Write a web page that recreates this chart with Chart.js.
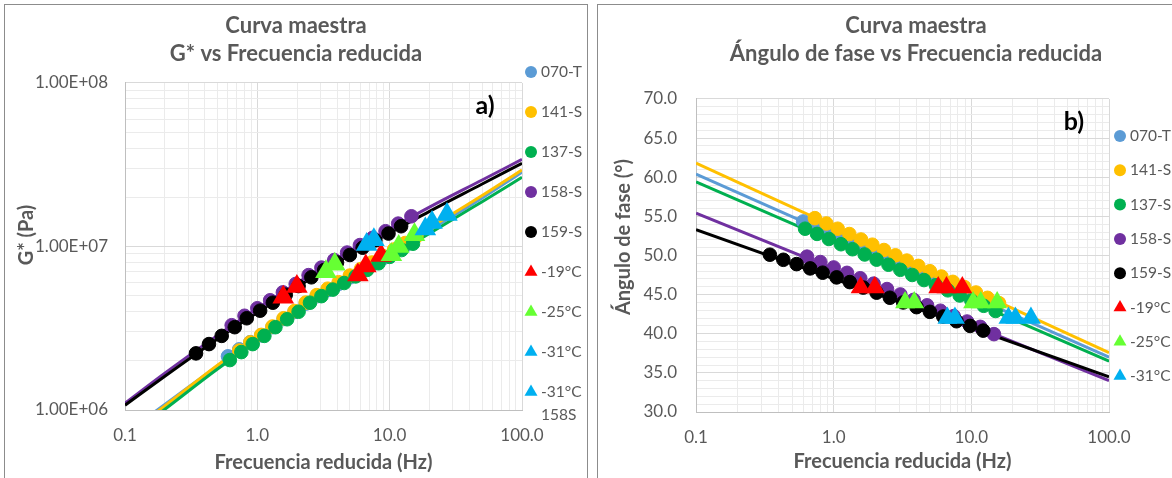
<!DOCTYPE html>
<html>
<head>
<meta charset="utf-8">
<script src="https://cdn.jsdelivr.net/npm/chart.js@4.4.1/dist/chart.umd.min.js"></script>
<style>
  html, body { margin: 0; padding: 0; background: #fff; overflow: hidden; width: 1172px; height: 478px; }
  .panel { position: absolute; top: 4px; border: 1px solid #8c8c8c; background: #fff; }
  #panelA { left: 4px; width: 582px; height: 480px; }
  #panelB { left: 597px; width: 636px; height: 480px; }
  canvas { display: block; }
</style>
</head>
<body>
<div class="panel" id="panelA"><canvas id="chartG" width="582" height="474"></canvas></div>
<div class="panel" id="panelB"><canvas id="chartP" width="636" height="474"></canvas></div>

<script>
// --- data ----------------------------------------------------------------
// reduced frequency (Hz), G* (Pa), phase angle (deg) per sample
const f070 = [0.60, 0.73, 0.885, 1.07, 1.30, 1.58, 1.91, 2.32, 2.81, 3.40, 4.12, 5.0, 6.06, 7.34, 8.9, 10.8, 13.1];
const g070 = [2.13e6, 2.35e6, 2.60e6, 2.86e6, 3.21e6, 3.60e6, 3.98e6, 4.47e6, 4.96e6, 5.41e6, 5.91e6, 6.47e6, 7.08e6, 7.75e6, 8.47e6, 9.27e6, 1.01e7];
const p070 = [54.35, 53.69, 53.03, 52.39, 51.73, 51.07, 50.43, 49.77, 49.12, 48.48, 47.82, 47.17, 46.52, 45.86, 45.22, 44.56, 43.91];

const f141 = [0.73, 0.885, 1.07, 1.30, 1.58, 1.91, 2.32, 2.81, 3.40, 4.12, 5.0, 6.06, 7.34, 8.9, 10.8, 13.1, 15.9];
const g141 = [2.31e6, 2.59e6, 2.88e6, 3.24e6, 3.64e6, 4.03e6, 4.54e6, 5.04e6, 5.52e6, 6.05e6, 6.64e6, 7.28e6, 7.98e6, 8.75e6, 9.59e6, 1.05e7, 1.15e7];
const p141 = [54.77, 54.09, 53.42, 52.74, 52.04, 51.38, 50.70, 50.02, 49.35, 48.67, 47.99, 47.31, 46.63, 45.96, 45.27, 44.59, 43.91];

const f137 = [0.62, 0.757, 0.923, 1.13, 1.37, 1.68, 2.05, 2.50, 3.05, 3.72, 4.53, 5.53, 6.75, 8.23, 10.0, 12.3, 15.0];
const g137 = [2.02e6, 2.26e6, 2.53e6, 2.84e6, 3.21e6, 3.59e6, 3.99e6, 4.53e6, 4.97e6, 5.45e6, 5.98e6, 6.56e6, 7.19e6, 7.89e6, 8.64e6, 9.51e6, 1.04e7];
const p137 = [53.42, 52.76, 52.11, 51.44, 50.80, 50.13, 49.47, 48.82, 48.17, 47.51, 46.86, 46.20, 45.55, 44.89, 44.25, 43.57, 42.91];

const f158 = [0.64, 0.80, 1.0, 1.25, 1.56, 1.95, 2.44, 3.05, 3.81, 4.77, 5.96, 7.45, 9.31, 11.6, 14.6];
const g158 = [3.30e6, 3.77e6, 4.19e6, 4.69e6, 5.24e6, 5.90e6, 6.68e6, 7.43e6, 8.26e6, 9.18e6, 1.02e7, 1.13e7, 1.24e7, 1.38e7, 1.53e7];
const p158 = [49.85, 49.16, 48.47, 47.78, 47.09, 46.40, 45.71, 45.02, 44.33, 43.63, 42.94, 42.25, 41.56, 40.88, 39.95];

const f159 = [0.344, 0.431, 0.538, 0.675, 0.832, 1.05, 1.31, 1.64, 2.05, 2.56, 3.2, 4.0, 5.0, 6.25, 7.8, 9.8, 12.2];
const g159 = [2.22e6, 2.53e6, 2.84e6, 3.21e6, 3.64e6, 4.05e6, 4.53e6, 5.07e6, 5.73e6, 6.48e6, 7.18e6, 7.98e6, 8.87e6, 9.83e6, 1.09e7, 1.20e7, 1.33e7];
const p159 = [50.1, 49.45, 48.9, 48.35, 47.8, 47.2, 46.6, 45.9, 45.25, 44.6, 44.0, 43.4, 42.8, 42.2, 41.6, 41.0, 40.4];

// master curve (model) lines
const lineFreqG = [0.1, 0.2, 0.5, 1, 2, 5, 10, 20, 50, 100];
const g070Line = [7.2e5, 1.08e6, 1.86e6, 2.76e6, 4.10e6, 6.5e6, 9.0e6, 1.26e7, 1.98e7, 2.85e7];
const g141Line = [7.0e5, 1.06e6, 1.88e6, 2.80e6, 4.17e6, 6.65e6, 9.25e6, 1.30e7, 2.05e7, 2.94e7];
const g137Line = [6.6e5, 1.01e6, 1.78e6, 2.65e6, 3.94e6, 6.25e6, 8.64e6, 1.20e7, 1.88e7, 2.65e7];
const g158Line = [1.10e6, 1.68e6, 2.86e6, 4.17e6, 5.98e6, 9.4e6, 1.28e7, 1.74e7, 2.55e7, 3.41e7];
const g159Line = [1.07e6, 1.61e6, 2.72e6, 3.95e6, 5.65e6, 8.87e6, 1.21e7, 1.64e7, 2.41e7, 3.23e7];

const lineFreqP = [0.1, 100];
const p070Line = [60.4, 37.0];
const p141Line = [61.8, 37.6];
const p137Line = [59.4, 36.5];
const p158Line = [55.4, 34.0];
const p159Line = [53.3, 34.5];

// temperature markers
const f19 = [1.57, 1.99, 5.75, 6.6, 8.6];
const g19 = [4.9e6, 5.7e6, 6.7e6, 7.6e6, 8.8e6];
const p19 = [45.9, 45.9, 45.9, 45.9, 45.9];

const f25 = [3.30, 3.85, 10.3, 11.7, 15.4];
const g25 = [7.0e6, 7.8e6, 8.9e6, 1.0e7, 1.18e7];
const p25 = [44.0, 44.0, 44.0, 44.0, 44.0];

const f31 = [18.6, 20.9, 27.1];
const g31 = [1.28e7, 1.40e7, 1.57e7];
const p31 = [42.0, 42.0, 42.0];

const f31b = [6.7, 7.6];
const g31b = [1.03e7, 1.10e7];
const p31b = [42.0, 42.0];

// axis tick labels
const freqTicks = [0.1, 1, 10, 100];
const freqTickLabels = ['0.1', '1.0', '10.0', '100.0'];
const gTicks = [1e6, 1e7, 1e8];
const gTickLabels = ['1.00E+06', '1.00E+07', '1.00E+08'];
const phaseTicks = [30, 35, 40, 45, 50, 55, 60, 65, 70];
const phaseTickLabels = ['30.0', '35.0', '40.0', '45.0', '50.0', '55.0', '60.0', '65.0', '70.0'];

// --- styling -----------------------------------------------------------------
const TXT = '#595959';
const MAJOR = '#D9D9D9';
const MINOR = '#EBEBEB';
Chart.defaults.font.family = 'Lato';
Chart.defaults.color = TXT;

const samples = [
  { label: '070-T', color: '#5B9BD5', f: f070, g: g070, p: p070, gl: g070Line, pl: p070Line },
  { label: '141-S', color: '#FFC000', f: f141, g: g141, p: p141, gl: g141Line, pl: p141Line },
  { label: '137-S', color: '#00B050', f: f137, g: g137, p: p137, gl: g137Line, pl: p137Line },
  { label: '158-S', color: '#7030A0', f: f158, g: g158, p: p158, gl: g158Line, pl: p158Line },
  { label: '159-S', color: '#000000', f: f159, g: g159, p: p159, gl: g159Line, pl: p159Line }
];
// the second -31°C entry only shows up in the legend of chart a)
const temps = [
  { label: '-19°C', text: ['-19°C'], color: '#FF0000', f: f19, g: g19, p: p19, legendP: true },
  { label: '-25°C', text: ['-25°C'], color: '#66FF33', f: f25, g: g25, p: p25, legendP: true },
  { label: '-31°C', text: ['-31°C'], color: '#00B0F0', f: f31, g: g31, p: p31, legendP: true },
  { label: '-31°C 158S', text: ['-31°C', '158S'], color: '#00B0F0', f: f31b, g: g31b, p: p31b, legendP: false }
];

const pts = (xs, ys) => xs.map((x, i) => ({ x: x, y: ys[i] }));
const near = (a, b) => Math.abs(a - b) <= Math.abs(b) * 1e-6;
const labelFor = (v, vals, labels) => {
  const i = vals.findIndex(t => near(v, t));
  return i < 0 ? '' : labels[i];
};
const isDecade = v => {
  const l = Math.log10(v);
  return Math.abs(l - Math.round(l)) < 1e-6;
};
// drop the 1.5 / 15 steps chart.js adds to log axes
const intSteps = scale => {
  scale.ticks = scale.ticks.filter(t => {
    const e = Math.floor(Math.log10(t.value) + 1e-9);
    const m = t.value / Math.pow(10, e);
    return Math.abs(m - Math.round(m)) < 1e-6;
  });
};

function buildDatasets(key, lineKey, lineFreq, circleR, triR, smooth, forP) {
  const sets = [];
  temps.forEach((t, j) => {
    const inLegend = !forP || t.legendP;
    sets.push({
      label: t.label, legendText: t.text, legendRank: inLegend ? 10 + j : undefined,
      data: pts(t.f, t[key]), showLine: false,
      pointStyle: 'triangle', pointRadius: triR, pointBorderWidth: 0,
      backgroundColor: t.color, borderColor: t.color, order: 10 - j
    });
  });
  samples.forEach((s, i) => {
    sets.push({
      label: s.label, legendText: [s.label], legendRank: i,
      data: pts(s.f, s[key]), showLine: false,
      pointStyle: 'circle', pointRadius: circleR, pointBorderWidth: 1,
      backgroundColor: s.color, borderColor: s.color, order: 20 - i
    });
    sets.push({
      label: s.label + ' modelo',
      data: pts(lineFreq, s[lineKey]), showLine: true,
      pointRadius: 0, borderWidth: 3, borderColor: s.color,
      cubicInterpolationMode: smooth ? 'monotone' : 'default', tension: 0,
      order: 40 - i
    });
  });
  return sets;
}

// legend at the right, panel tag and rotated y title
const sideLegend = {
  id: 'sideLegend',
  afterDraw(chart, args, o) {
    const ctx = chart.ctx;
    const items = chart.data.datasets
      .filter(d => d.legendRank !== undefined)
      .sort((a, b) => a.legendRank - b.legendRank);
    ctx.save();
    ctx.font = '15.5px Lato';
    ctx.textBaseline = 'middle';
    ctx.textAlign = 'left';
    items.forEach((d, i) => {
      const y = o.top + i * o.step;
      ctx.fillStyle = d.backgroundColor;
      ctx.beginPath();
      if (d.pointStyle === 'triangle') {
        const r = 7.5;
        ctx.moveTo(o.markX, y - r);
        ctx.lineTo(o.markX + r * 0.866, y + r * 0.5);
        ctx.lineTo(o.markX - r * 0.866, y + r * 0.5);
        ctx.closePath();
      } else {
        ctx.arc(o.markX, y, 6, 0, Math.PI * 2);
      }
      ctx.fill();
      ctx.fillStyle = TXT;
      d.legendText.forEach((line, k) => ctx.fillText(line, o.textX, y + k * 23));
    });

    ctx.fillStyle = '#000';
    ctx.font = 'bold 25px Lato';
    ctx.textAlign = 'center';
    ctx.fillText(o.tag, o.tagX, o.tagY);

    ctx.translate(o.yTitleX, o.yTitleY);
    ctx.rotate(-Math.PI / 2);
    ctx.fillStyle = TXT;
    ctx.font = 'bold 20px Lato';
    ctx.fillText(o.yTitle, 0, 0);
    ctx.restore();
  }
};

function logFreqAxis(bottomGap, titlePad) {
  return {
    type: 'logarithmic', min: 0.1, max: 100,
    afterBuildTicks: intSteps,
    afterFit: s => { s.height = bottomGap; },
    ticks: {
      autoSkip: false, maxRotation: 0, padding: 15,
      font: { size: 17 },
      callback: v => labelFor(v, freqTicks, freqTickLabels)
    },
    grid: { drawTicks: false, lineWidth: 1, color: c => (c.tick && isDecade(c.tick.value)) ? MAJOR : MINOR },
    border: { color: '#BFBFBF', width: 1 },
    title: {
      display: true, text: 'Frecuencia reducida (Hz)', color: TXT,
      font: { size: 20, weight: 'bold' }, padding: { top: 0, bottom: titlePad }
    }
  };
}

// empty box on the right that keeps room for the legend
function spacer(w) {
  return {
    position: 'right', display: true,
    grid: { display: false }, ticks: { display: false }, border: { display: false },
    afterFit: s => { s.width = w; }
  };
}

// --- chart a) G* ---------------------------------------------------------------
new Chart(document.getElementById('chartG'), {
  type: 'scatter',
  data: { datasets: buildDatasets('g', 'gl', lineFreqG, 6.8, 12.5, true, false) },
  options: {
    responsive: false, animation: false, events: [],
    layout: { padding: 0 },
    plugins: {
      legend: { display: false },
      tooltip: { enabled: false },
      title: {
        display: true, text: ['Curva maestra', 'G* vs Frecuencia reducida'], color: TXT,
        font: { size: 22, weight: 'bold', lineHeight: 1.27 }, padding: { top: 7, bottom: 15.1 }
      },
      sideLegend: {
        top: 67, step: 40, markX: 526, textX: 536, tag: 'a)', tagX: 480, tagY: 101,
        yTitle: 'G* (Pa)', yTitleX: 22, yTitleY: 230
      }
    },
    scales: {
      x: logFreqAxis(474 - 405, 4),
      y: {
        type: 'logarithmic', min: 1e6, max: 1e8,
        afterBuildTicks: intSteps,
        afterFit: s => { s.width = 120; },
        ticks: {
          autoSkip: false, padding: 17, font: { size: 17 },
          callback: v => labelFor(v, gTicks, gTickLabels)
        },
        grid: { drawTicks: false, lineWidth: 1, color: c => (c.tick && isDecade(c.tick.value)) ? MAJOR : MINOR },
        border: { color: '#BFBFBF', width: 1 }
      },
      pad: spacer(65)
    }
  },
  plugins: [sideLegend]
});

// --- chart b) phase angle ------------------------------------------------------
new Chart(document.getElementById('chartP'), {
  type: 'scatter',
  data: { datasets: buildDatasets('p', 'pl', lineFreqP, 6.8, 11.5, false, true) },
  options: {
    responsive: false, animation: false, events: [],
    layout: { padding: 0 },
    plugins: {
      legend: { display: false },
      tooltip: { enabled: false },
      title: {
        display: true, text: ['Curva maestra', 'Ángulo de fase vs Frecuencia reducida'], color: TXT,
        font: { size: 22, weight: 'bold', lineHeight: 1.27 }, padding: { top: 7, bottom: 31.1 }
      },
      sideLegend: {
        top: 131, step: 34.3, markX: 522, textX: 532, tag: 'b)', tagX: 476, tagY: 117,
        yTitle: 'Ángulo de fase (°)', yTitleX: 25.5, yTitleY: 232
      }
    },
    scales: {
      x: logFreqAxis(474 - 407, 5),
      y: {
        type: 'linear', min: 30, max: 70,
        afterFit: s => { s.width = 98; },
        ticks: {
          stepSize: 1, autoSkip: false, padding: 19, font: { size: 17 },
          callback: v => labelFor(v, phaseTicks, phaseTickLabels)
        },
        grid: { drawTicks: false, lineWidth: 1, color: c => (c.tick && c.tick.value % 5 === 0) ? MAJOR : MINOR },
        border: { color: '#BFBFBF', width: 1 }
      },
      pad: spacer(125)
    }
  },
  plugins: [sideLegend]
});
</script>
</body>
</html>
